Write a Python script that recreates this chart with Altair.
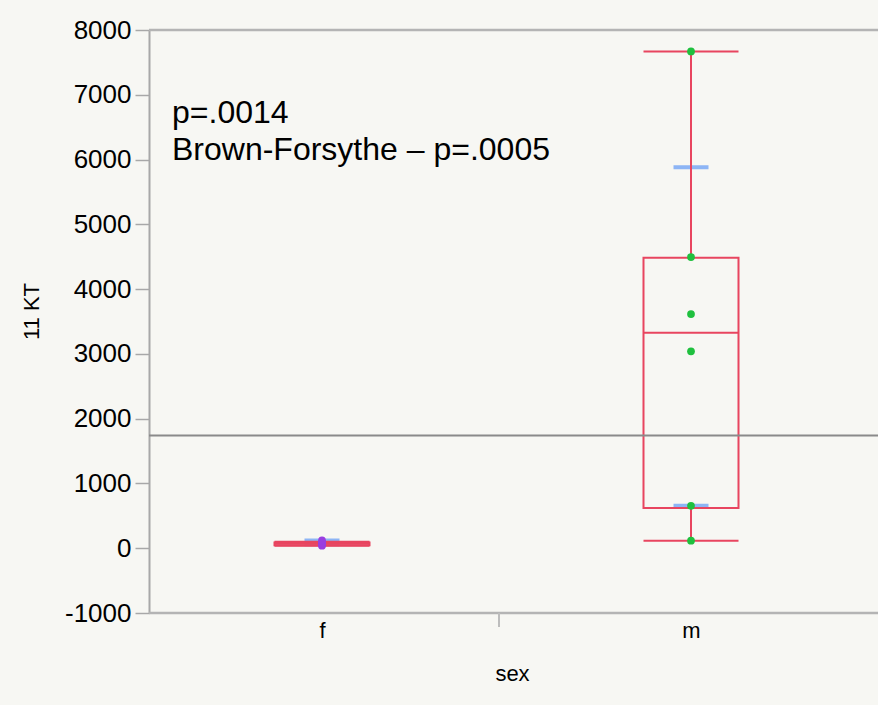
import altair as alt
import pandas as pd

# ---- data ----
groups = ["f", "m"]
whisker_low = [40, 117]
q1 = [45, 620]
median = [70, 3325]
q3 = [90, 4485]
whisker_high = [100, 7670]
sd_low = [60, 655]
sd_high = [120, 5880]

f_points = [40, 55, 70, 90, 120]
m_points = [7670, 4495, 3615, 3040, 655, 117]

grand_mean = [1740]
y_ticks = [-1000, 0, 1000, 2000, 3000, 4000, 5000, 6000, 7000, 8000]
annotations = ["p=.0014", "Brown-Forsythe \u2013 p=.0005"]

RED = "#e8455f"
BLUE = "#8db5f5"
GRAY = "#a8a8a8"
FONT = "Liberation Sans"

box_df = pd.DataFrame({
    "sex": groups, "lo": whisker_low, "q1": q1, "med": median,
    "q3": q3, "hi": whisker_high, "sdlo": sd_low, "sdhi": sd_high,
})
pts_df = pd.DataFrame({
    "sex": ["f"] * len(f_points) + ["m"] * len(m_points),
    "val": f_points + m_points,
})
mean_df = pd.DataFrame({"v": grand_mean})
frame_df = pd.DataFrame({"v": [max(y_ticks), min(y_ticks)]})

xscale = alt.Scale(type="point", domain=groups, range=[173, 542], padding=0)
yscale = alt.Scale(domain=[min(y_ticks), max(y_ticks)], nice=False, zero=False)

x_axis = alt.Axis(
    title="sex", ticks=False, labelAngle=0, labelFontSize=22, labelColor="black",
    labelPadding=7, domain=False,
    titleFontSize=22, titleFontWeight="normal", titleColor="black",
    titleX=363, titleY=67, titleBaseline="alphabetic", grid=False,
)
y_axis = alt.Axis(
    title="11 KT", values=y_ticks, labelExpr="datum.value + ''",
    labelFontSize=26, labelColor="black",
    tickSize=14, tickWidth=1.5, tickColor=GRAY, labelPadding=4,
    domain=True, domainColor=GRAY, domainWidth=2, grid=False,
    titleFontSize=22, titleFontWeight="normal", titleColor="black",
    titleX=-111, titleY=281, titleBaseline="alphabetic", titleAngle=270,
)

X = alt.X("sex:N", scale=xscale, axis=x_axis)
base = alt.Chart(box_df)

sd_lo_t = base.mark_tick(size=35, thickness=4, color=BLUE, opacity=1).encode(
    x=X, y=alt.Y("sdlo:Q", scale=yscale, axis=y_axis))
sd_hi_t = base.mark_tick(size=35, thickness=4, color=BLUE, opacity=1).encode(
    x=X, y=alt.Y("sdhi:Q", scale=yscale))

whisker_a = base.mark_rule(color=RED, strokeWidth=2).encode(
    x=X, y=alt.Y("lo:Q", scale=yscale), y2="q1:Q")
whisker_b = base.mark_rule(color=RED, strokeWidth=2).encode(
    x=X, y=alt.Y("q3:Q", scale=yscale), y2="hi:Q")
box = base.mark_bar(size=95, fill="white", fillOpacity=0, stroke=RED, strokeWidth=2).encode(
    x=X, y=alt.Y("q1:Q", scale=yscale), y2="q3:Q")
med = base.mark_tick(size=95, thickness=2, color=RED, opacity=1).encode(
    x=X, y=alt.Y("med:Q", scale=yscale))
cap_lo = base.mark_tick(size=95, thickness=2, color=RED, opacity=1).encode(
    x=X, y=alt.Y("lo:Q", scale=yscale))
cap_hi = base.mark_tick(size=95, thickness=2, color=RED, opacity=1).encode(
    x=X, y=alt.Y("hi:Q", scale=yscale))

mean_line = alt.Chart(mean_df).mark_rule(color="#8a8a8a", strokeWidth=2).encode(
    y=alt.Y("v:Q", scale=yscale))
frame = alt.Chart(frame_df).mark_rule(color="#b4b4b4", strokeWidth=2.5).encode(
    y=alt.Y("v:Q", scale=yscale), x=alt.value(0), x2=alt.value(729))

points = alt.Chart(pts_df).mark_circle(size=60, opacity=1).encode(
    x=X, y=alt.Y("val:Q", scale=yscale),
    color=alt.Color("sex:N", scale=alt.Scale(domain=groups, range=["#9a3ee0", "#1fc03e"]), legend=None),
)

divider = alt.Chart(mean_df).mark_rule(color="#bdbdbd", strokeWidth=2).encode(
    x=alt.value(350), y=alt.value(583), y2=alt.value(597))

txt1 = alt.Chart(mean_df).mark_text(
    text=annotations[0], align="left", baseline="alphabetic", fontSize=32,
    font=FONT, color="black").encode(x=alt.value(23), y=alt.value(93))
txt2 = alt.Chart(mean_df).mark_text(
    text=annotations[1], align="left", baseline="alphabetic", fontSize=32,
    font=FONT, color="black").encode(x=alt.value(23), y=alt.value(130))

chart = alt.layer(
    sd_lo_t, sd_hi_t, whisker_a, whisker_b, box, med, cap_lo, cap_hi,
    mean_line, frame, points, divider, txt1, txt2,
).properties(
    width=729, height=583,
    autosize=alt.AutoSizeParams(type="none"),
    padding={"left": 149, "top": 30, "right": 0, "bottom": 92},
    background="#f7f7f3",
).configure_view(
    fill="white", stroke="transparent"
).configure(
    font=FONT
)

chart.save("out.html", embed_options={"renderer": "svg", "actions": False})
